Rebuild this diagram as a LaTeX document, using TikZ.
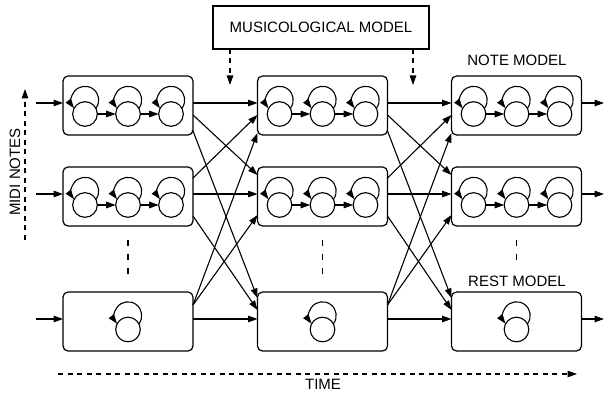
\documentclass[tikz,border=0pt]{standalone}
\usepackage{fontspec}
\setmainfont{Liberation Sans}
\usetikzlibrary{arrows.meta,calc}
\begin{document}
\begin{tikzpicture}[x=1pt,y=1pt,
  every node/.style={font=\fontsize{15pt}{18pt}\selectfont},
  box/.style={draw,line width=1.2pt,rounded corners=5pt,minimum width=130pt,minimum height=59pt,inner sep=0pt,outer sep=0pt},
  mbox/.style={draw,line width=1.1pt,minimum width=216pt,minimum height=43pt,inner sep=0pt,outer sep=0pt},
  state/.style={draw,circle,line width=1.1pt,fill=white,minimum size=24.6pt,inner sep=0pt,outer sep=0pt},
  arr/.style={line width=1.1pt,-{Triangle[length=9.5pt,width=6.5pt]}},
  darr/.style={line width=1.1pt,dash pattern=on 5pt off 4.5pt,-{Triangle[length=9.5pt,width=6.5pt]}},
  dline/.style={line width=1.1pt,dash pattern=on 6pt off 8pt},
  lbl/.style={inner sep=0pt}
]
\useasboundingbox (0,0) rectangle (605,396);
% boxes
\foreach \c/\x in {1/128,2/322.5,3/516.5}{
  \node[box] (b\c1) at (\x,290.5) {};
  \node[box] (b\c2) at (\x,199.5) {};
  \node[box] (b\c3) at (\x,74.5) {};
  % note model states
  \foreach \r/\y in {1/290.5,2/199.5}{
    \foreach \k/\dx in {1/-43,2/0,3/43}{
      \node[state] (s\c\r\k) at (\x+\dx,\y-8.5) {};
      \draw[arr] (s\c\r\k.center) ++(0,14pt) ++(-37:13.7pt) arc[start angle=-37,end angle=217,radius=13.7pt];
    }
    \draw[arr] (s\c\r1) -- (s\c\r2);
    \draw[arr] (s\c\r2) -- (s\c\r3);
  }
  % rest model state
  \node[state] (r\c) at (\x,74.5-8) {};
  \draw[arr] (r\c.center) ++(0,14pt) ++(-37:13.7pt) arc[start angle=-37,end angle=217,radius=13.7pt];
}
% vertical dashed lines between rows
\coordinate (v1a) at (128,156); \coordinate (v1b) at (128,116);
\coordinate (v2a) at (322.5,156); \coordinate (v2b) at (322.5,116);
\coordinate (v3a) at (516.5,156); \coordinate (v3b) at (516.5,136);
\draw[dline] (v1a) -- (v1b);
\draw[dline] (v2a) -- (v2b);
\draw[dline] (v3a) -- (v3b);
% inputs and outputs
\foreach \r/\y in {1/293,2/202,3/77}{
  \coordinate (in\r) at (36,\y);
  \coordinate (out\r) at (604,\y);
  \draw[arr] (in\r) -- ([yshift=-27pt]b1\r.north west);
  \draw[arr] ([yshift=-27pt]b3\r.north east) -- (out\r);
}
% cross connections
\foreach \c/\n in {1/2,2/3}{
  \foreach \sr/\so/\dr/\do in {1/27/1/27,1/39/2/8,1/55/3/6,2/11/1/39,2/27/2/27,2/49/3/18,3/13/1/57,3/13/2/48,3/27/3/27}{
    \draw[arr] ([yshift=-\so pt]b\c\sr.north east) -- ([yshift=-\do pt]b\n\dr.north west);
  }
}
% musicological model
\node[mbox] (m) at (321,368.5) {MUSICOLOGICAL MODEL};
\coordinate (d1) at (230,311);
\coordinate (d2) at (413,311);
\draw[darr] (m.south -| d1) -- (d1);
\draw[darr] (m.south -| d2) -- (d2);
% labels
\node[lbl] (nm) at (517,336) {NOTE MODEL};
\node[lbl] (rm) at (517,115) {REST MODEL};
\node[lbl,rotate=90] (mn) at (15,224) {MIDI NOTES};
\coordinate (ma) at (25,156); \coordinate (mb) at (25,307);
\draw[darr] (ma) -- (mb);
\coordinate (ta) at (58,22); \coordinate (tb) at (577,22);
\draw[darr] (ta) -- (tb);
\node[lbl] (tm) at (323,12) {TIME};
\end{tikzpicture}
\end{document}
